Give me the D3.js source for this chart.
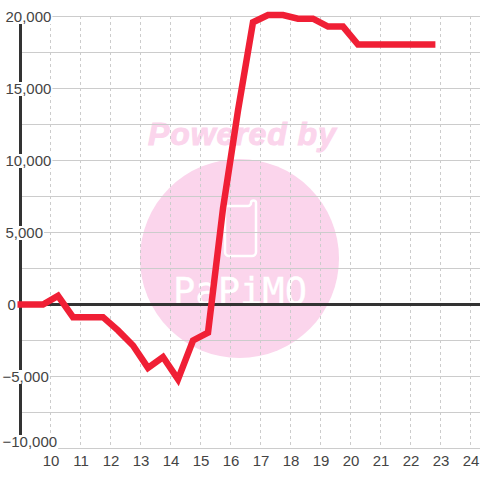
<!DOCTYPE html>
<html><head><meta charset="utf-8">
<style>html,body{margin:0;padding:0;background:#fff}svg{display:block}text{font-family:"Liberation Sans",sans-serif}</style>
<script src="https://cdn.jsdelivr.net/npm/d3@7"></script></head><body>
<script>
const hours=[8.9,9.75,10.25,10.75,11.75,12.25,12.75,13.25,13.75,14.25,14.75,15.25,15.75,16.25,16.75,17.25,17.75,18.25,18.75,19.25,19.75,20.25,20.75,21.25,21.75,22.25,22.83];
const values=[0,0,600,-880,-880,-1800,-2850,-4400,-3650,-5200,-2500,-1950,6670,13470,19600,20100,20100,19850,19850,19300,19300,18050,18050,18050,18050,18050,18050];
const yTicks=[-10000,-7500,-5000,-2500,0,2500,5000,7500,10000,12500,15000,17500,20000];
const yLabels=[-10000,-5000,0,5000,10000,15000,20000];
const xTicks=[10,11,12,13,14,15,16,17,18,19,20,21,22,23,24];
const watermark="Powered by";
const logo="PaPiMO";

const svg=d3.select("body").append("svg").attr("width",480).attr("height",480);
const x=d3.scaleLinear().domain([10,24]).range([50.5,470.5]);
const y=d3.scaleLinear().domain([-10000,20000]).range([448.5,16.5]);
const fmt=d3.format(",");
const pink="#fbd5ec";

svg.append("circle").attr("cx",239.5).attr("cy",258.5).attr("r",99.5).attr("fill",pink);
svg.append("text").attr("x",148).attr("y",145)
  .style("font-weight","bold").style("font-style","italic").style("font-size","32px").style("letter-spacing","0.9px")
  .attr("fill",pink).attr("stroke",pink).attr("stroke-width",1).text(watermark);
svg.append("path").attr("fill","none").attr("stroke","#fff").attr("stroke-width",2.5).attr("stroke-linejoin","round")
  .attr("d","M246,206 H228 a3,3 0 0 0 -3,3 V252 a4,4 0 0 0 4,4 H252 a4,4 0 0 0 4,-4 V203 a2.5,2.5 0 0 0 -5,0 a3,3 0 0 1 -3,3 Z");
svg.append("text").attr("x",173).attr("y",304)
  .style("font-family","'DejaVu Sans Mono'").style("font-size","38px")
  .attr("fill","#fff").attr("stroke","#fff").attr("stroke-width",0.3)
  .attr("textLength",134).attr("lengthAdjust","spacingAndGlyphs").text(logo);

const grid=svg.append("g");
grid.selectAll("line.v").data(xTicks).join("line").attr("class","v")
  .attr("x1",d=>x(d)).attr("x2",d=>x(d)).attr("y1",16).attr("y2",448)
  .attr("stroke","#cccccc").attr("stroke-width",1).attr("stroke-dasharray","3 3");
grid.selectAll("line.h").data(yTicks).join("line").attr("class","h")
  .attr("x1",20).attr("x2",480).attr("y1",d=>y(d)).attr("y2",d=>y(d))
  .attr("stroke","#cccccc").attr("stroke-width",1);

svg.append("line").attr("x1",20.5).attr("x2",20.5).attr("y1",24).attr("y2",448)
  .attr("stroke","#333").attr("stroke-width",3);
svg.append("line").attr("x1",18).attr("x2",480).attr("y1",y(0)).attr("y2",y(0))
  .attr("stroke","#333").attr("stroke-width",3);

const labelX=d=>d<0?2.5:d===0?7.5:5.5;
const baseline=d=>Math.min(y(d)+5.5,447);
const yl=svg.append("g").selectAll("g").data(yLabels).join("g");
const bg=yl.append("rect").attr("fill","#fff");
const lt=yl.append("text").attr("x",labelX).attr("y",baseline)
  .style("font-size","15px").attr("fill","#444").text(d=>fmt(d));
lt.each(function(d,i){
  const w=this.getComputedTextLength();
  d3.select(bg.nodes()[i]).attr("x",labelX(d)-1).attr("width",w+2)
    .attr("y",baseline(d)-12).attr("height",14);
});

svg.append("g").selectAll("text").data(xTicks).join("text")
  .attr("x",d=>x(d)+0.5).attr("y",466).attr("text-anchor","middle")
  .style("font-size","15px").attr("fill","#444").text(d=>d);

const line=d3.line().x((d,i)=>x(hours[i])).y(d=>y(d));
svg.append("path").datum(values).attr("d",line).attr("fill","none")
  .attr("stroke","#f01f35").attr("stroke-width",6.5).attr("stroke-linejoin","miter");
</script></body></html>
